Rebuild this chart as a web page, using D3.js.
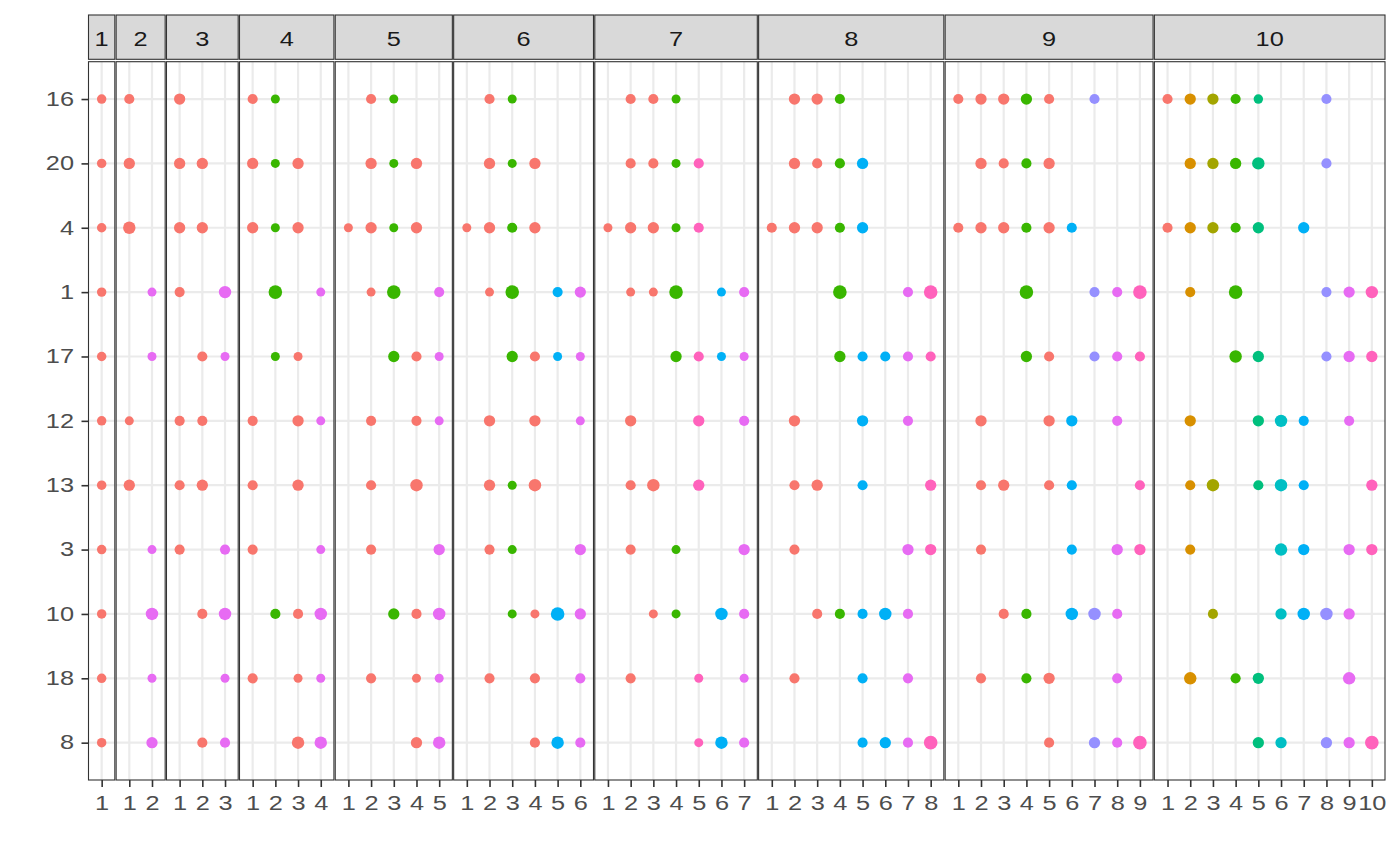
<!DOCTYPE html>
<html><head><meta charset="utf-8">
<script src="https://cdn.jsdelivr.net/npm/d3@7"></script>
<style>body{margin:0;background:#fff}svg{display:block}text{font-family:"Liberation Sans",Arial,Helvetica,sans-serif}</style>
</head><body><svg id="c" width="1400" height="865"></svg>
<script>
const resolutions = ["1","2","3","4","5","6","7","8","9","10"];
const clusters = ["16","20","4","1","17","12","13","3","10","18","8"];
const palette = ["#F8766D","#D89000","#A3A500","#39B600","#00BF7D","#00BFC4","#00B0F6","#9590FF","#E76BF3","#FF62BC"];
// colour level (1..10) of every column, per facet
const columnColour = [
  [1],[1,9],[1,1,9],[1,4,1,9],[1,1,4,1,9],[1,1,4,1,7,9],
  [1,1,1,4,10,7,9],[1,1,1,4,7,7,9,10],[1,1,1,4,1,7,8,9,10],[1,2,3,4,5,6,7,8,9,10]
];
// [cluster, column, size]
const facet1 = clusters.map(c => [c,1,1.2]);
const facet2 = [["16",1,1.5],["20",1,2],["4",1,2.5],["1",2,1],["17",2,1],["12",1,1],["13",1,2],["3",2,1],["10",2,2.5],["18",2,1],["8",2,2]];
const facet3 = [["16",1,2],["20",1,2],["20",2,2],["4",1,2],["4",2,2],["1",1,1.5],["1",3,2.5],["17",2,1.5],["17",3,1],["12",1,1.5],["12",2,1.5],["13",1,1.5],["13",2,2],["3",1,1.5],["3",3,1.5],["10",2,1.5],["10",3,2.5],["18",3,1],["8",2,1.5],["8",3,1.5]];
const facet4 = [["16",1,1.5],["16",2,1],["20",1,2],["20",2,1],["20",3,2],["4",1,2],["4",2,1],["4",3,2],["1",2,3],["1",4,1],["17",2,1],["17",3,1],["12",1,1.5],["12",3,2],["12",4,1],["13",1,1.5],["13",3,2],["3",1,1.5],["3",4,1],["10",2,1.5],["10",3,1.5],["10",4,2.5],["18",1,1.5],["18",3,1],["18",4,1],["8",3,2.5],["8",4,2.5]];
const facet5 = [["16",2,1.5],["16",3,1],["20",2,2],["20",3,1],["20",4,2],["4",1,1],["4",2,2],["4",3,1],["4",4,2],["1",2,1],["1",3,3],["1",5,1.5],["17",3,2],["17",4,1.5],["17",5,1],["12",2,1.5],["12",4,1.5],["12",5,1],["13",2,1.5],["13",4,2.5],["3",2,1.5],["3",5,2],["10",3,2],["10",4,1.5],["10",5,2.5],["18",2,1.5],["18",4,1],["18",5,1],["8",4,2],["8",5,2.5]];
const facet6 = [["16",2,1.5],["16",3,1],["20",2,2],["20",3,1],["20",4,2],["4",1,1],["4",2,2],["4",3,1.5],["4",4,2],["1",2,1],["1",3,3],["1",5,1.5],["1",6,2],["17",3,2],["17",4,1.5],["17",5,1],["17",6,1],["12",2,2],["12",4,2],["12",6,1],["13",2,2],["13",3,1],["13",4,2.5],["3",2,1.5],["3",3,1],["3",6,2],["10",3,1],["10",4,1],["10",5,3],["10",6,2],["18",2,1.5],["18",4,1.5],["18",6,1.5],["8",4,1.5],["8",5,2.5],["8",6,1.5]];
const facet7 = [["16",2,1.5],["16",3,1.5],["16",4,1],["20",2,1.5],["20",3,1.5],["20",4,1],["20",5,1.5],["4",1,1],["4",2,2],["4",3,2],["4",4,1],["4",5,1.5],["1",2,1],["1",3,1],["1",4,3],["1",6,1],["1",7,1.5],["17",4,2],["17",5,1.5],["17",6,1],["17",7,1],["12",2,2],["12",5,2],["12",7,1.5],["13",2,1.5],["13",3,2.5],["13",5,2],["3",2,1.5],["3",4,1],["3",7,2],["10",3,1],["10",4,1],["10",6,2.5],["10",7,1.5],["18",2,1.5],["18",5,1],["18",7,1],["8",5,1],["8",6,2.5],["8",7,1.5]];
const facet8 = [["16",2,2],["16",3,2],["16",4,1.5],["20",2,2],["20",3,1.5],["20",4,1.5],["20",5,2],["4",1,1.5],["4",2,2],["4",3,2],["4",4,1.5],["4",5,2],["1",4,3],["1",7,1.5],["1",8,3],["17",4,2],["17",5,1.5],["17",6,1.5],["17",7,1.5],["17",8,1.5],["12",2,2],["12",5,2],["12",7,1.5],["13",2,1.5],["13",3,2],["13",5,1.5],["13",8,2],["3",2,1.5],["3",7,2],["3",8,2],["10",3,1.5],["10",4,1.5],["10",5,1.5],["10",6,2.5],["10",7,1.5],["18",2,1.5],["18",5,1.5],["18",7,1.5],["8",5,1.5],["8",6,2],["8",7,1.5],["8",8,3]];
const facet9 = [["16",1,1.5],["16",2,2],["16",3,2],["16",4,2],["16",5,1.5],["16",7,1.5],["20",2,2],["20",3,1.5],["20",4,1.5],["20",5,2],["4",1,1.5],["4",2,2],["4",3,2],["4",4,1.5],["4",5,2],["4",6,1.5],["1",4,3],["1",7,1.5],["1",8,1.5],["1",9,3],["17",4,2],["17",5,1.5],["17",7,1.5],["17",8,1.5],["17",9,1.5],["12",2,2],["12",5,2],["12",6,2],["12",8,1.5],["13",2,1.5],["13",3,2],["13",5,1.5],["13",6,1.5],["13",9,1.5],["3",2,1.5],["3",6,1.5],["3",8,2],["3",9,2],["10",3,1.5],["10",4,1.5],["10",6,2.5],["10",7,2.5],["10",8,1.5],["18",2,1.5],["18",4,1.5],["18",5,2],["18",8,1.5],["8",5,1.5],["8",7,2],["8",8,1.5],["8",9,3]];
const facet10 = [["16",1,1.5],["16",2,2],["16",3,2],["16",4,1.5],["16",5,1.2],["16",8,1.5],["20",2,2],["20",3,2],["20",4,2],["20",5,2.5],["20",8,1.5],["4",1,1.5],["4",2,2],["4",3,2],["4",4,1.5],["4",5,2],["4",7,2],["1",2,1.5],["1",4,3],["1",8,1.5],["1",9,2],["1",10,2.5],["17",4,2.5],["17",5,2],["17",8,1.5],["17",9,2],["17",10,2],["12",2,2],["12",5,2],["12",6,2.5],["12",7,1.5],["12",9,1.5],["13",2,1.5],["13",3,2.5],["13",5,1.5],["13",6,2.5],["13",7,1.5],["13",10,2],["3",2,1.5],["3",6,2.5],["3",7,2],["3",9,2],["3",10,2],["10",3,1.5],["10",6,2],["10",7,2.5],["10",8,2.5],["10",9,2],["18",2,2.5],["18",4,1.5],["18",5,2],["18",9,2.5],["8",5,2],["8",6,2],["8",8,2],["8",9,2],["8",10,3]];
const facets = [facet1,facet2,facet3,facet4,facet5,facet6,facet7,facet8,facet9,facet10];

const svg = d3.select("#c");
const panelLeft = 88.5, panelRight = 1385, gap = 1.3, pad = 0.58;
const panelTop = 61.7, panelBottom = 780, stripTop = 15, stripBottom = 59.3;
const unitsPer = resolutions.map((r,i) => i + 2*pad);
const unit = (panelRight - panelLeft - gap*(resolutions.length-1)) / d3.sum(unitsPer);
const y = d3.scalePoint().domain(clusters).range([panelTop, panelBottom]).padding(pad);
const rScale = d3.scaleLinear().domain([1,3]).range([4.5,6.8]);
const fontSize = "19.5px", stretch = 1.3;

// y axis
const yAxis = svg.append("g").attr("transform",`translate(${panelLeft},0)`)
  .call(d3.axisLeft(y).tickSize(7).tickPadding(7.5));
yAxis.select(".domain").remove();
yAxis.selectAll(".tick line").attr("stroke","#333").attr("stroke-width",1.6);
yAxis.selectAll(".tick text").attr("fill","#4D4D4D").style("font-size",fontSize)
  .attr("x", -14.5/stretch).attr("transform",`scale(${stretch},1)`);

let x0 = panelLeft;
resolutions.forEach((res, i) => {
  const k = i + 1;
  const w = unitsPer[i] * unit;
  const cols = d3.range(1, k+1);
  const x = d3.scalePoint().domain(cols).range([x0, x0 + w]).padding(pad);
  const g = svg.append("g");
  g.append("rect").attr("x",x0).attr("y",panelTop).attr("width",w).attr("height",panelBottom-panelTop).attr("fill","#fff");
  g.selectAll(".hg").data(clusters).join("line").attr("class","hg")
    .attr("x1",x0).attr("x2",x0+w).attr("y1",d=>y(d)).attr("y2",d=>y(d))
    .attr("stroke","#EBEBEB").attr("stroke-width",2.2);
  g.selectAll(".vg").data(cols).join("line").attr("class","vg")
    .attr("x1",d=>x(d)).attr("x2",d=>x(d)).attr("y1",panelTop).attr("y2",panelBottom)
    .attr("stroke","#EBEBEB").attr("stroke-width",2.2);
  g.selectAll("circle").data(facets[i]).join("circle")
    .attr("cx",d=>x(d[1])).attr("cy",d=>y(d[0])).attr("r",d=>rScale(d[2]))
    .attr("fill",d=>palette[columnColour[i][d[1]-1]-1]);
  g.append("rect").attr("x",x0).attr("y",panelTop).attr("width",w).attr("height",panelBottom-panelTop)
    .attr("fill","none").attr("stroke","#333").attr("stroke-width",1.1);
  g.append("rect").attr("x",x0).attr("y",stripTop).attr("width",w).attr("height",stripBottom-stripTop)
    .attr("fill","#D9D9D9").attr("stroke","#333").attr("stroke-width",1.1);
  g.append("text").attr("transform",`translate(${x0+w/2},45.6) scale(${stretch},1)`).attr("text-anchor","middle")
    .attr("fill","#1A1A1A").style("font-size",fontSize).text(res);
  const xa = svg.append("g").attr("transform",`translate(0,${panelBottom})`)
    .call(d3.axisBottom(x).tickSize(7).tickPadding(9.5));
  xa.select(".domain").remove();
  xa.selectAll(".tick line").attr("stroke","#333").attr("stroke-width",1.6);
  xa.selectAll(".tick text").attr("fill","#4D4D4D").style("font-size",fontSize)
    .attr("transform",`scale(${stretch},1)`);
  x0 += w + gap;
});
</script></body></html>
